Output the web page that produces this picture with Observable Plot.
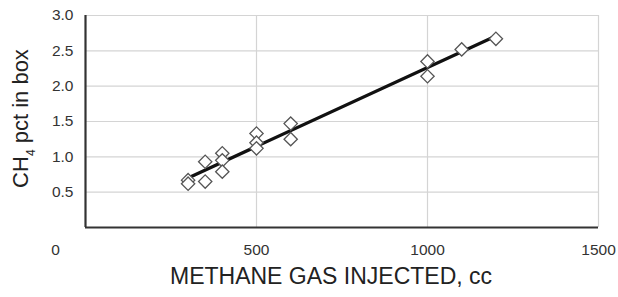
<!DOCTYPE html>
<html>
<head>
<meta charset="utf-8">
<script src="https://cdn.jsdelivr.net/npm/d3@7"></script>
<script src="https://cdn.jsdelivr.net/npm/@observablehq/plot@0.6"></script>
<style>
  html, body { margin: 0; padding: 0; background: #fff; }
  #chart svg { display: block; }
</style>
</head>
<body>
<div id="chart"></div>
<script>
// Data
const methaneCc = [300, 300, 350, 350, 400, 400, 400, 500, 500, 500, 600, 600, 1000, 1000, 1100, 1200];
const ch4Pct    = [0.67, 0.62, 0.93, 0.65, 1.05, 0.95, 0.79, 1.33, 1.20, 1.12, 1.47, 1.25, 2.35, 2.14, 2.52, 2.67];
const xTicks = [0, 500, 1000, 1500];
const yTicks = [0.5, 1.0, 1.5, 2.0, 2.5, 3.0];
const xTitle = "METHANE GAS INJECTED, cc";
const yTitle = "CH4 pct in box";

const points = methaneCc.map((x, i) => ({x, y: ch4Pct[i]}));
const font = "'Liberation Sans', Arial, Helvetica, sans-serif";

const chart = Plot.plot({
  width: 618,
  height: 297,
  marginLeft: 85,
  marginRight: 20,
  marginTop: 15,
  marginBottom: 70,
  style: {fontFamily: font, background: "#fff", overflow: "visible"},
  x: {domain: [0, 1500], axis: null},
  y: {domain: [0, 3], axis: null},
  marks: [
    Plot.ruleX(xTicks.filter(d => d > 0), {stroke: "#d4d4d4", strokeWidth: 1.2}),
    Plot.ruleY(yTicks, {stroke: "#d4d4d4", strokeWidth: 1.2}),
    Plot.linearRegressionY(points, {x: "x", y: "y", ci: 0, stroke: "#111", strokeWidth: 3.2}),
    Plot.dot(points, {x: "x", y: "y", symbol: "diamond2", r: 6, fill: "#fff", stroke: "#555", strokeWidth: 1.3}),
    Plot.ruleX([0], {stroke: "#333", strokeWidth: 2.2}),
    Plot.ruleY([0], {stroke: "#333", strokeWidth: 2.2}),
    Plot.text(yTicks, {x: 0, y: d => d, text: d => d.toFixed(1), dx: -12, textAnchor: "end", fontSize: 15.5, fill: "#333"}),
    Plot.text(xTicks.filter(d => d > 0), {x: d => d, y: 0, text: d => String(d), dy: 23, fontSize: 15.5, fill: "#333"}),
    Plot.text(xTicks.filter(d => d === 0), {x: d => d, y: 0, text: d => String(d), dx: -30, dy: 23, fontSize: 15.5, fill: "#333"}),
    Plot.text([xTitle], {frameAnchor: "bottom", text: d => d, dx: -11, dy: 56, fontSize: 23, fill: "#222"}),
    Plot.text([yTitle], {frameAnchor: "left", text: d => d, rotate: -90, dx: -65, dy: -3, fontSize: 22, fill: "#222"})
  ]
});

// Render the "4" of CH4 as a subscript
chart.querySelectorAll("text").forEach(t => {
  if (t.textContent === yTitle) {
    t.textContent = "";
    t.setAttribute("text-anchor", "middle");
    const ns = "http://www.w3.org/2000/svg";
    const a = document.createElementNS(ns, "tspan"); a.textContent = "CH";
    const b = document.createElementNS(ns, "tspan"); b.textContent = "4";
    b.setAttribute("font-size", "12"); b.setAttribute("baseline-shift", "sub");
    const c = document.createElementNS(ns, "tspan"); c.textContent = " pct in box";
    t.append(a, b, c);
  }
});

document.getElementById("chart").append(chart);
</script>
</body>
</html>
